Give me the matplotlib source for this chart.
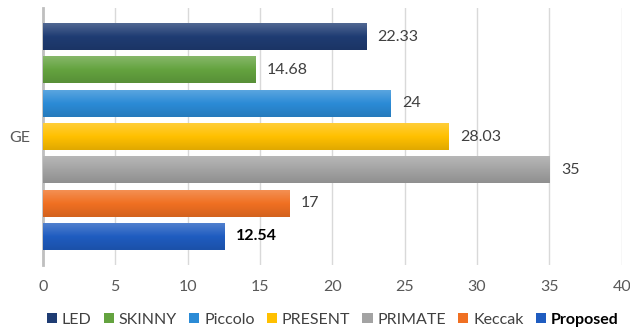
import numpy as np
import matplotlib
matplotlib.use("Agg")
from matplotlib import pyplot as plt
from matplotlib.colors import LinearSegmentedColormap, to_rgb
from matplotlib.patches import Patch

# data
names = ["LED", "SKINNY", "Piccolo", "PRESENT", "PRIMATE", "Keccak", "Proposed"]
values = [22.33, 14.68, 24, 28.03, 35, 17, 12.54]
labels = ["22.33", "14.68", "24", "28.03", "35", "17", "12.54"]
colors = ["#1f3c73", "#64a33f", "#2b8bd6", "#ffc000", "#a3a3a3", "#f07022", "#1f5cc0"]
category = "GE"
xticks = [0, 5, 10, 15, 20, 25, 30, 35, 40]

plt.rcParams['font.family'] = ['Lato', 'DejaVu Sans']
fs = 11.5

fig = plt.figure(figsize=(6.3, 3.33), dpi=100)
ax = fig.add_axes([0.068, 0.204, 0.919, 0.772])

n = len(values)
h = 0.81
ys = [(n - 1) / 2 - i for i in range(n)]

for i, (v, c, y) in enumerate(zip(values, colors, ys)):
    rgb = np.array(to_rgb(c))
    light = rgb + (1 - rgb) * 0.22
    dark = rgb * 0.88
    cmap = LinearSegmentedColormap.from_list("g%d" % i, [light, rgb, dark])
    grad = np.linspace(0, 1, 50).reshape(-1, 1)
    ax.imshow(grad, extent=[0, v, y - h / 2, y + h / 2], aspect='auto',
              cmap=cmap, origin='upper', zorder=3)
    weight = 'bold' if names[i] == "Proposed" else 'normal'
    col = '#000000' if names[i] == "Proposed" else '#404040'
    ax.text(v + 0.8, y, labels[i], va='center', ha='left', fontsize=fs,
            color=col, fontweight=weight, zorder=4)

ax.set_xlim(0, 40)
ax.set_ylim(-3.86, 3.86)
ax.set_xticks(xticks)
ax.set_xticklabels([str(t) for t in xticks], fontsize=fs, color='#595959')
ax.set_yticks([0])
ax.set_yticklabels([category], fontsize=fs, color='#595959')
ax.tick_params(axis='both', length=0)
ax.tick_params(axis='x', pad=11)
ax.tick_params(axis='y', pad=9)
ax.grid(axis='x', color='#d9d9d9', linewidth=1, zorder=0)
ax.set_axisbelow(True)
for s in ['top', 'right', 'bottom']:
    ax.spines[s].set_visible(False)
ax.spines['left'].set_color('#bfbfbf')
ax.spines['left'].set_linewidth(2)

handles = [Patch(facecolor=c, edgecolor='none') for c in colors]
leg = fig.legend(handles, names, loc='center', bbox_to_anchor=(0.528, 0.04), ncol=n,
                 frameon=False, fontsize=fs, handlelength=0.65, handleheight=0.65,
                 handletextpad=0.3, columnspacing=0.75, borderpad=0.1)
for t in leg.get_texts():
    t.set_color('#404040')
    if t.get_text() == "Proposed":
        t.set_fontweight('bold')
        t.set_color('#000000')

fig.savefig("out.png", dpi=100)
